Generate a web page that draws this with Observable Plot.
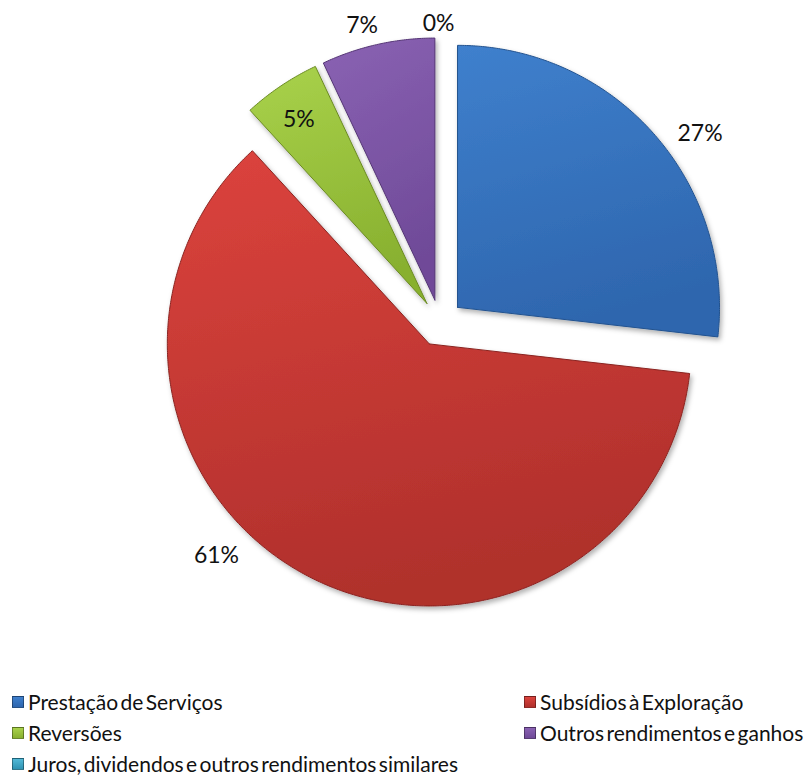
<!DOCTYPE html>
<html>
<head>
<meta charset="utf-8">
<script src="https://cdn.jsdelivr.net/npm/d3@7"></script>
<script src="https://cdn.jsdelivr.net/npm/@observablehq/plot@0.6"></script>
<style>
  html, body { margin: 0; padding: 0; background: #fff; }
  #chart { position: relative; width: 809px; height: 782px; overflow: hidden; font-family: Lato, "Open Sans", sans-serif; }
  #legend { position: absolute; left: 0; top: 686px; width: 809px; display: grid;
            grid-template-columns: 512px 297px; grid-auto-rows: 31px; }
  .item { display: flex; align-items: center; font-size: 21px; line-height: 24px; color: #111; word-spacing: -3px; white-space: nowrap; }
  .sw { width: 12px; height: 12px; margin: 0 4px 0 12px; box-sizing: border-box; border: 1px solid rgba(0,0,0,0.35); }
</style>
</head>
<body>
<div id="chart"></div>
<script>
// ---- data ----
const categories = [
  "Prestação de Serviços",
  "Subsídios à Exploração",
  "Reversões",
  "Outros rendimentos e ganhos",
  "Juros, dividendos e outros rendimentos similares"
];
const shares = [26.8, 61.4, 4.8, 7.0, 0];          // percent of total
const topColors    = ["#3f80cd", "#dc433d", "#a9d24b", "#8a62b3", "#52b9d7"];
const bottomColors = ["#2e66ae", "#b0302c", "#88b02f", "#6f4a98", "#2f93b3"];
const edgeColors   = ["#24538f", "#8a2420", "#6a8a22", "#553675", "#237591"];

// ---- layout ----
const W = 809, H = 686;
const R_PX = 262, CX = 439.5, CY = 322.5;    // pie radius and centre in pixels
const EXPLODE = 23.5 / R_PX;                 // explosion distance in radius units
// label placement: distance (radius units) from the slice apex and angular nudge (deg) from the bisector
const labelDist  = [1.138, 1.147, 0.856, 1.085, 1.052];
const labelNudge = [6.2, 18.1, -1.0, -2.25, -0.3];

const rows = categories.map((name, i) => ({name, share: shares[i], i}));
const arcs = d3.pie().sort(null).value(d => d.share)(rows);

const slices = arcs.map(p => {
  const mid = (p.startAngle + p.endAngle) / 2;
  const ox = EXPLODE * Math.sin(mid), oy = EXPLODE * Math.cos(mid);
  const pts = [{x: ox, y: oy, name: p.data.name}];
  const n = Math.max(2, Math.ceil((p.endAngle - p.startAngle) / (Math.PI / 360)));
  for (let k = 0; k <= n; ++k) {
    const a = p.startAngle + (p.endAngle - p.startAngle) * k / n;
    pts.push({x: ox + Math.sin(a), y: oy + Math.cos(a), name: p.data.name});
  }
  pts.push({x: ox, y: oy, name: p.data.name});
  const la = mid + labelNudge[p.data.i] * Math.PI / 180;
  const ld = labelDist[p.data.i];
  return {
    i: p.data.i, name: p.data.name, share: p.data.share, pts,
    label: {x: ox + ld * Math.sin(la), y: oy + ld * Math.cos(la), text: Math.round(p.data.share) + "%"}
  };
});

const svg = Plot.plot({
  width: W, height: H,
  margin: 0,
  style: {fontFamily: "Lato, 'Open Sans', sans-serif", background: "transparent"},
  x: {domain: [-CX / R_PX, (W - CX) / R_PX], range: [0, W], axis: null},
  y: {domain: [-(H - CY) / R_PX, CY / R_PX], range: [H, 0], axis: null},
  color: {type: "ordinal", domain: categories, range: categories.map((_, i) => `url(#grad${i})`)},
  marks: [
    ...slices.filter(s => s.share > 0).map(s =>
      Plot.line(s.pts, {x: "x", y: "y", fill: "name", stroke: edgeColors[s.i], strokeWidth: 1, strokeLinejoin: "round", curve: "linear"})
    ),
    Plot.text(slices.map(s => s.label), {x: "x", y: "y", text: "text", fontSize: 23, fill: "#111"})
  ]
});

const defs = d3.select(svg).insert("defs", ":first-child");
categories.forEach((_, i) => {
  const g = defs.append("linearGradient").attr("id", `grad${i}`)
    .attr("x1", 0).attr("y1", 0).attr("x2", 0.25).attr("y2", 1);
  g.append("stop").attr("offset", "0%").attr("stop-color", topColors[i]);
  g.append("stop").attr("offset", "100%").attr("stop-color", bottomColors[i]);
});
const f = defs.append("filter").attr("id", "shadow").attr("x", "-10%").attr("y", "-10%").attr("width", "130%").attr("height", "130%");
f.append("feDropShadow").attr("dx", 2).attr("dy", 3).attr("stdDeviation", 2.5).attr("flood-color", "#000").attr("flood-opacity", 0.3);
d3.select(svg).selectAll('g[aria-label="line"]').attr("filter", "url(#shadow)");

const chart = document.getElementById("chart");
chart.appendChild(svg);

const legend = document.createElement("div");
legend.id = "legend";
categories.forEach((name, i) => {
  const item = document.createElement("div");
  item.className = "item";
  const sw = document.createElement("span");
  sw.className = "sw";
  sw.style.background = `linear-gradient(${topColors[i]}, ${bottomColors[i]})`;
  item.appendChild(sw);
  item.appendChild(document.createTextNode(name));
  legend.appendChild(item);
});
chart.appendChild(legend);
</script>
</body>
</html>
